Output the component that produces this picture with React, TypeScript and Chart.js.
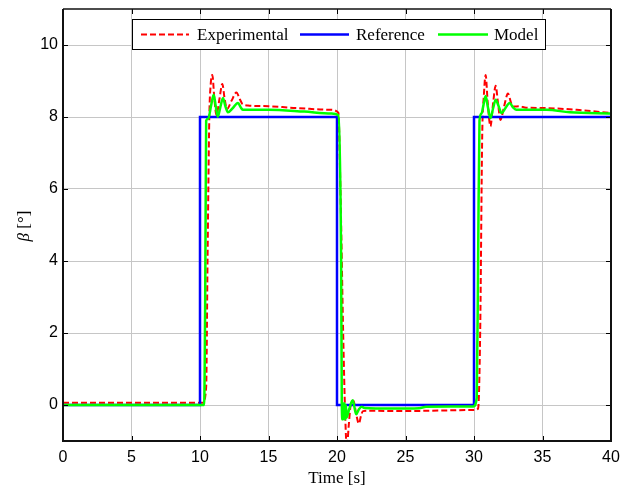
import React, { useEffect, useRef } from "react";
import { Chart, registerables } from "chart.js";
Chart.register(...registerables);

const xTickValues = [0, 5, 10, 15, 20, 25, 30, 35, 40];
const yTickValues = [0, 2, 4, 6, 8, 10];

const legendLabels = ["Experimental", "Reference", "Model"];
const xTitle = "Time [s]";
const yTitleSymbol = "β";
const yTitleUnit = " [°]";

const refT = [0, 10, 10, 20, 20, 30, 30, 40];
const refV = [0, 0, 8, 8, 0, 0, 8, 8];

const expT = [
  0, 10.2, 10.45, 10.55, 10.68, 10.78, 10.9, 11.05, 11.2, 11.42, 11.63, 11.8, 11.97, 12.3, 12.66, 12.9, 13.1, 13.5, 15, 17, 19.5, 20.1,
  20.25, 20.45, 20.6, 20.72, 20.85, 21.0, 21.2, 21.4, 21.6, 21.75, 21.9, 22.5, 25, 28, 29.9,
  30.3, 30.45, 30.6, 30.72, 30.85, 31.0, 31.2, 31.4, 31.58, 31.75, 31.93, 32.2, 32.48, 32.7, 32.85, 33.3, 33.8, 35, 37.5, 40,
];
const expV = [
  0.06, 0.06, 0.5, 4, 8, 8.9, 9.17, 8.5, 8.05, 8.5, 8.92, 8.5, 8.22, 8.45, 8.68, 8.5, 8.36, 8.32, 8.3, 8.25, 8.2, 8.12,
  6, 2, -0.3, -1.2, -0.6, 0, 0.12, -0.25, -0.52, -0.3, -0.17, -0.16, -0.17, -0.15, -0.14,
  -0.1, 2, 7.5, 8.6, 9.17, 8.4, 7.74, 8.4, 8.87, 8.4, 7.92, 8.3, 8.65, 8.4, 8.29, 8.3, 8.26, 8.25, 8.2, 8.11,
];

const modT = [
  0, 10.3, 10.38, 10.45, 10.6, 10.8, 11.0, 11.15, 11.3, 11.5, 11.68, 11.85, 12.04, 12.4, 12.77, 13.0, 13.14, 15, 17.6, 19.6, 20.1,
  20.3, 20.35, 20.4, 20.45, 20.5, 20.55, 20.6, 20.65, 20.7, 20.9, 21.15, 21.4, 21.6, 21.8, 22.0, 24, 26, 26.5, 29.95,
  30.2, 30.3, 30.4, 30.55, 30.7, 30.85, 31.0, 31.2, 31.4, 31.58, 31.8, 32.0, 32.3, 32.6, 32.85, 33.1, 35.3, 37, 40,
];
const modV = [
  0, 0, 3, 7.9, 7.95, 8.3, 8.62, 8.3, 8.01, 8.3, 8.53, 8.3, 8.13, 8.25, 8.39, 8.25, 8.2, 8.2, 8.15, 8.1, 8.05,
  4, 0.05, -0.4, 0.05, -0.4, 0.05, -0.4, 0, -0.35, -0.1, 0.13, -0.26, -0.12, -0.05, -0.08, -0.1, -0.09, -0.05, -0.04,
  0.2, 4, 7.9, 8.1, 8.35, 8.58, 8.3, 7.97, 8.25, 8.48, 8.3, 8.11, 8.25, 8.39, 8.27, 8.2, 8.2, 8.13, 8.1,
];

const toPoints = (t: number[], v: number[]) => t.map((x, i) => ({ x, y: v[i] }));

const SERIF = '"Liberation Serif", "Times New Roman", serif';

const framePlugin = {
  id: "matlabFrame",
  afterDatasetsDraw(chart: any) {
    const { ctx, chartArea: a, scales } = chart;
    const xs = scales.x;
    const ys = scales.y;
    ctx.save();
    ctx.strokeStyle = "#000";
    ctx.lineWidth = 1;
    ctx.beginPath();
    xTickValues.forEach((v) => {
      const px = Math.round(xs.getPixelForValue(v)) + 0.5;
      ctx.moveTo(px, a.bottom);
      ctx.lineTo(px, a.bottom - 5);
      ctx.moveTo(px, a.top);
      ctx.lineTo(px, a.top + 5);
    });
    yTickValues.forEach((v) => {
      const py = Math.round(ys.getPixelForValue(v)) + 0.5;
      ctx.moveTo(a.left, py);
      ctx.lineTo(a.left + 5, py);
      ctx.moveTo(a.right, py);
      ctx.lineTo(a.right - 5, py);
    });
    ctx.stroke();
    ctx.strokeStyle = "#111";
    ctx.lineWidth = 2;
    ctx.beginPath();
    ctx.moveTo(a.left, a.top);
    ctx.lineTo(a.left, a.bottom);
    ctx.lineTo(a.right, a.bottom);
    ctx.lineTo(a.right, a.top);
    ctx.stroke();
    ctx.lineWidth = 1.3;
    ctx.beginPath();
    ctx.moveTo(a.left, a.top);
    ctx.lineTo(a.right, a.top);
    ctx.stroke();
    ctx.restore();
  },
  afterDraw(chart: any) {
    const { ctx, chartArea: a } = chart;
    ctx.save();
    const lx = 132, ly = 19, lw = 413, lh = 30;
    ctx.fillStyle = "#fff";
    ctx.fillRect(lx, ly, lw, lh);
    ctx.strokeStyle = "#000";
    ctx.lineWidth = 1;
    ctx.strokeRect(lx + 0.5, ly + 0.5, lw, lh);
    const cy = ly + lh / 2 + 0.5;
    const items = [
      { color: "#ff0000", dash: [6, 3], width: 2, x0: 141, x1: 189, tx: 197 },
      { color: "#0000ff", dash: [], width: 2.5, x0: 300, x1: 349, tx: 356 },
      { color: "#00ff00", dash: [], width: 2.5, x0: 438, x1: 488, tx: 494 },
    ];
    ctx.font = "17px " + SERIF;
    ctx.textBaseline = "middle";
    ctx.textAlign = "left";
    items.forEach((it, i) => {
      ctx.strokeStyle = it.color;
      ctx.lineWidth = it.width;
      ctx.setLineDash(it.dash);
      ctx.beginPath();
      ctx.moveTo(it.x0, cy);
      ctx.lineTo(it.x1, cy);
      ctx.stroke();
      ctx.setLineDash([]);
      ctx.fillStyle = "#000";
      ctx.fillText(legendLabels[i], it.tx, cy + 1);
    });
    ctx.textAlign = "center";
    ctx.fillText(xTitle, (a.left + a.right) / 2, 479);
    ctx.translate(25, 226);
    ctx.rotate(-Math.PI / 2);
    ctx.font = "italic 17px " + SERIF;
    const w1 = ctx.measureText(yTitleSymbol).width;
    ctx.font = "17px " + SERIF;
    const w2 = ctx.measureText(yTitleUnit).width;
    const start = -(w1 + w2) / 2;
    ctx.textAlign = "left";
    ctx.font = "italic 17px " + SERIF;
    ctx.fillText(yTitleSymbol, start, 0);
    ctx.font = "17px " + SERIF;
    ctx.fillText(yTitleUnit, start + w1, 0);
    ctx.restore();
  },
};

export default function App() {
  const canvasRef = useRef<HTMLCanvasElement | null>(null);

  useEffect(() => {
    document.body.style.margin = "0";
    const canvas = canvasRef.current;
    if (!canvas) return;
    const chart = new Chart(canvas, {
      type: "line",
      data: {
        datasets: [
          {
            label: legendLabels[2],
            data: toPoints(modT, modV),
            borderColor: "#00ff00",
            borderWidth: 2.5,
            pointRadius: 0,
            cubicInterpolationMode: "monotone",
            fill: false,
            order: 0,
          },
          {
            label: legendLabels[1],
            data: toPoints(refT, refV),
            borderColor: "#0000ff",
            borderWidth: 2.5,
            pointRadius: 0,
            tension: 0,
            fill: false,
            order: 1,
          },
          {
            label: legendLabels[0],
            data: toPoints(expT, expV),
            borderColor: "#ff0000",
            borderWidth: 2,
            borderDash: [6, 3],
            pointRadius: 0,
            cubicInterpolationMode: "monotone",
            fill: false,
            order: 2,
          },
        ],
      },
      options: {
        animation: false,
        responsive: false,
        maintainAspectRatio: false,
        devicePixelRatio: 1,
        layout: { padding: { left: 0, right: 33, top: 9, bottom: 0 } },
        plugins: { legend: { display: false }, tooltip: { enabled: false }, title: { display: false } },
        scales: {
          x: {
            type: "linear",
            min: 0,
            max: 40,
            afterBuildTicks: (s: any) => {
              s.ticks = xTickValues.map((v) => ({ value: v }));
            },
            afterFit: (s: any) => {
              s.height = 48;
            },
            grid: { color: "#c6c6c6", lineWidth: 1, drawTicks: false },
            border: { display: false },
            ticks: { font: { family: '"Liberation Sans", Arial, sans-serif', size: 16 }, color: "#000", padding: 7, maxRotation: 0, autoSkip: false },
          },
          y: {
            type: "linear",
            min: -1,
            max: 11,
            afterBuildTicks: (s: any) => {
              s.ticks = yTickValues.map((v) => ({ value: v }));
            },
            afterFit: (s: any) => {
              s.width = 63;
              s.paddingTop = 0;
              s.paddingBottom = 0;
            },
            grid: { color: "#c6c6c6", lineWidth: 1, drawTicks: false },
            border: { display: false },
            ticks: { font: { family: '"Liberation Sans", Arial, sans-serif', size: 16 }, color: "#000", padding: 5, autoSkip: false },
          },
        },
      },
      plugins: [framePlugin],
    });
    return () => chart.destroy();
  }, []);

  return (
    <div style={{ width: 644, height: 489, background: "#fff" }}>
      <canvas ref={canvasRef} width={644} height={489} style={{ width: 644, height: 489, display: "block" }} />
    </div>
  );
}
